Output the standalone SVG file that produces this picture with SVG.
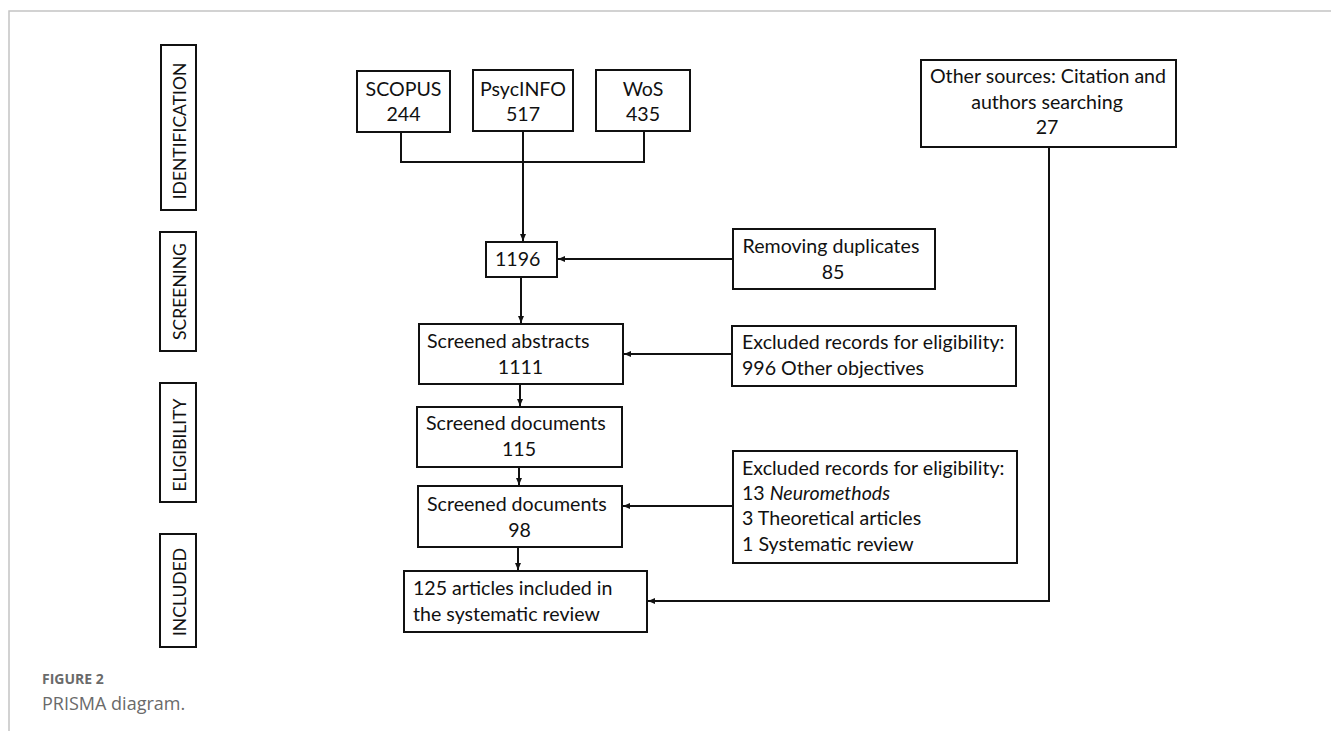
<svg xmlns="http://www.w3.org/2000/svg" width="1331" height="731" viewBox="0 0 1331 731">
<style>
.box{fill:#fff;stroke:#111;stroke-width:2}
.t{font-family:Lato,"Liberation Sans",sans-serif;font-size:19.6px;fill:#111}
.v{font-family:Lato,"Liberation Sans",sans-serif;font-size:17.5px;fill:#111;text-anchor:middle}
.c{text-anchor:middle}
.conn{fill:none;stroke:#111;stroke-width:2}
.frame{fill:none;stroke:#c4c4c4;stroke-width:1.5}
.cap1{font-family:"Open Sans","Liberation Sans",sans-serif;font-size:14px;font-weight:bold;fill:#6a6a6a}
.cap2{font-family:"Open Sans","Liberation Sans",sans-serif;font-size:18px;fill:#6a6a6a}
</style>
<defs>
<marker id="ah" markerWidth="8" markerHeight="8" refX="7" refY="4" orient="auto" markerUnits="userSpaceOnUse">
<path d="M0,1 L7,4 L0,7 Z" fill="#111"/>
</marker>
</defs>
<rect width="1331" height="731" fill="#fff"/>
<path class="frame" d="M9,731 V11 H1331"/>

<g id="stage-identification">
<rect class="box" x="161" y="45" width="35" height="165"/>
<text class="v" transform="translate(186,131) rotate(-90)">IDENTIFICATION</text>
</g>
<g id="stage-screening">
<rect class="box" x="160" y="232" width="36" height="119"/>
<text class="v" transform="translate(186,291.5) rotate(-90)">SCREENING</text>
</g>
<g id="stage-eligibility">
<rect class="box" x="160" y="383" width="36" height="119"/>
<text class="v" transform="translate(186,445) rotate(-90)">ELIGIBILITY</text>
</g>
<g id="stage-included">
<rect class="box" x="160" y="534" width="36" height="113"/>
<text class="v" transform="translate(186,592) rotate(-90)">INCLUDED</text>
</g>

<g id="connectors">
<path class="conn" d="M401,132 V162 H644 V131"/>
<path class="conn" d="M523,131 V241" marker-end="url(#ah)"/>
<path class="conn" d="M733,259 H558" marker-end="url(#ah)"/>
<path class="conn" d="M521,277 V323" marker-end="url(#ah)"/>
<path class="conn" d="M732,354 H624" marker-end="url(#ah)"/>
<path class="conn" d="M520,384 V406" marker-end="url(#ah)"/>
<path class="conn" d="M519,467 V485" marker-end="url(#ah)"/>
<path class="conn" d="M733,506 H623" marker-end="url(#ah)"/>
<path class="conn" d="M518,547 V570" marker-end="url(#ah)"/>
<path class="conn" d="M1049,147 V601 H648" marker-end="url(#ah)"/>
</g>

<g id="scopus">
<rect class="box" x="357" y="71" width="93" height="61"/>
<text class="t c" x="403.5" y="96">SCOPUS</text>
<text class="t c" x="403.5" y="121">244</text>
</g>
<g id="psycinfo">
<rect class="box" x="473" y="70" width="100" height="61"/>
<text class="t c" x="523" y="96">PsycINFO</text>
<text class="t c" x="523" y="121">517</text>
</g>
<g id="wos">
<rect class="box" x="596" y="70" width="94" height="61"/>
<text class="t c" x="643" y="96">WoS</text>
<text class="t c" x="643" y="121">435</text>
</g>
<g id="other-sources">
<rect class="box" x="921" y="60" width="255" height="87"/>
<text class="t c" x="1048" y="83">Other sources: Citation and</text>
<text class="t c" x="1047" y="109">authors searching</text>
<text class="t c" x="1047" y="134">27</text>
</g>
<g id="total">
<rect class="box" x="486" y="242" width="71" height="35"/>
<text class="t" x="495" y="266">1196</text>
</g>
<g id="duplicates">
<rect class="box" x="733" y="229" width="202" height="60"/>
<text class="t c" x="831" y="253">Removing duplicates</text>
<text class="t c" x="833" y="279">85</text>
</g>
<g id="abstracts">
<rect class="box" x="419" y="324" width="204" height="60"/>
<text class="t" x="427" y="348">Screened abstracts</text>
<text class="t c" x="520.5" y="374">1111</text>
</g>
<g id="excluded-abstracts">
<rect class="box" x="732" y="326" width="284" height="60"/>
<text class="t" x="742" y="349">Excluded records for eligibility:</text>
<text class="t" x="742" y="375">996 Other objectives</text>
</g>
<g id="documents-115">
<rect class="box" x="417" y="407" width="205" height="60"/>
<text class="t" x="426" y="430">Screened documents</text>
<text class="t c" x="519" y="456">115</text>
</g>
<g id="documents-98">
<rect class="box" x="418" y="486" width="204" height="61"/>
<text class="t" x="427" y="511">Screened documents</text>
<text class="t c" x="519.5" y="537">98</text>
</g>
<g id="excluded-documents">
<rect class="box" x="733" y="451" width="284" height="112"/>
<text class="t" x="742" y="475">Excluded records for eligibility:</text>
<text class="t" x="742" y="500">13 <tspan font-style="italic">Neuromethods</tspan></text>
<text class="t" x="742" y="525">3 Theoretical articles</text>
<text class="t" x="742" y="551">1 Systematic review</text>
</g>
<g id="included-articles">
<rect class="box" x="404" y="571" width="243" height="61"/>
<text class="t" x="413" y="595">125 articles included in</text>
<text class="t" x="413" y="621">the systematic review</text>
</g>

<text class="cap1" x="42" y="684">FIGURE 2</text>
<text class="cap2" x="42" y="710">PRISMA diagram.</text>
</svg>
